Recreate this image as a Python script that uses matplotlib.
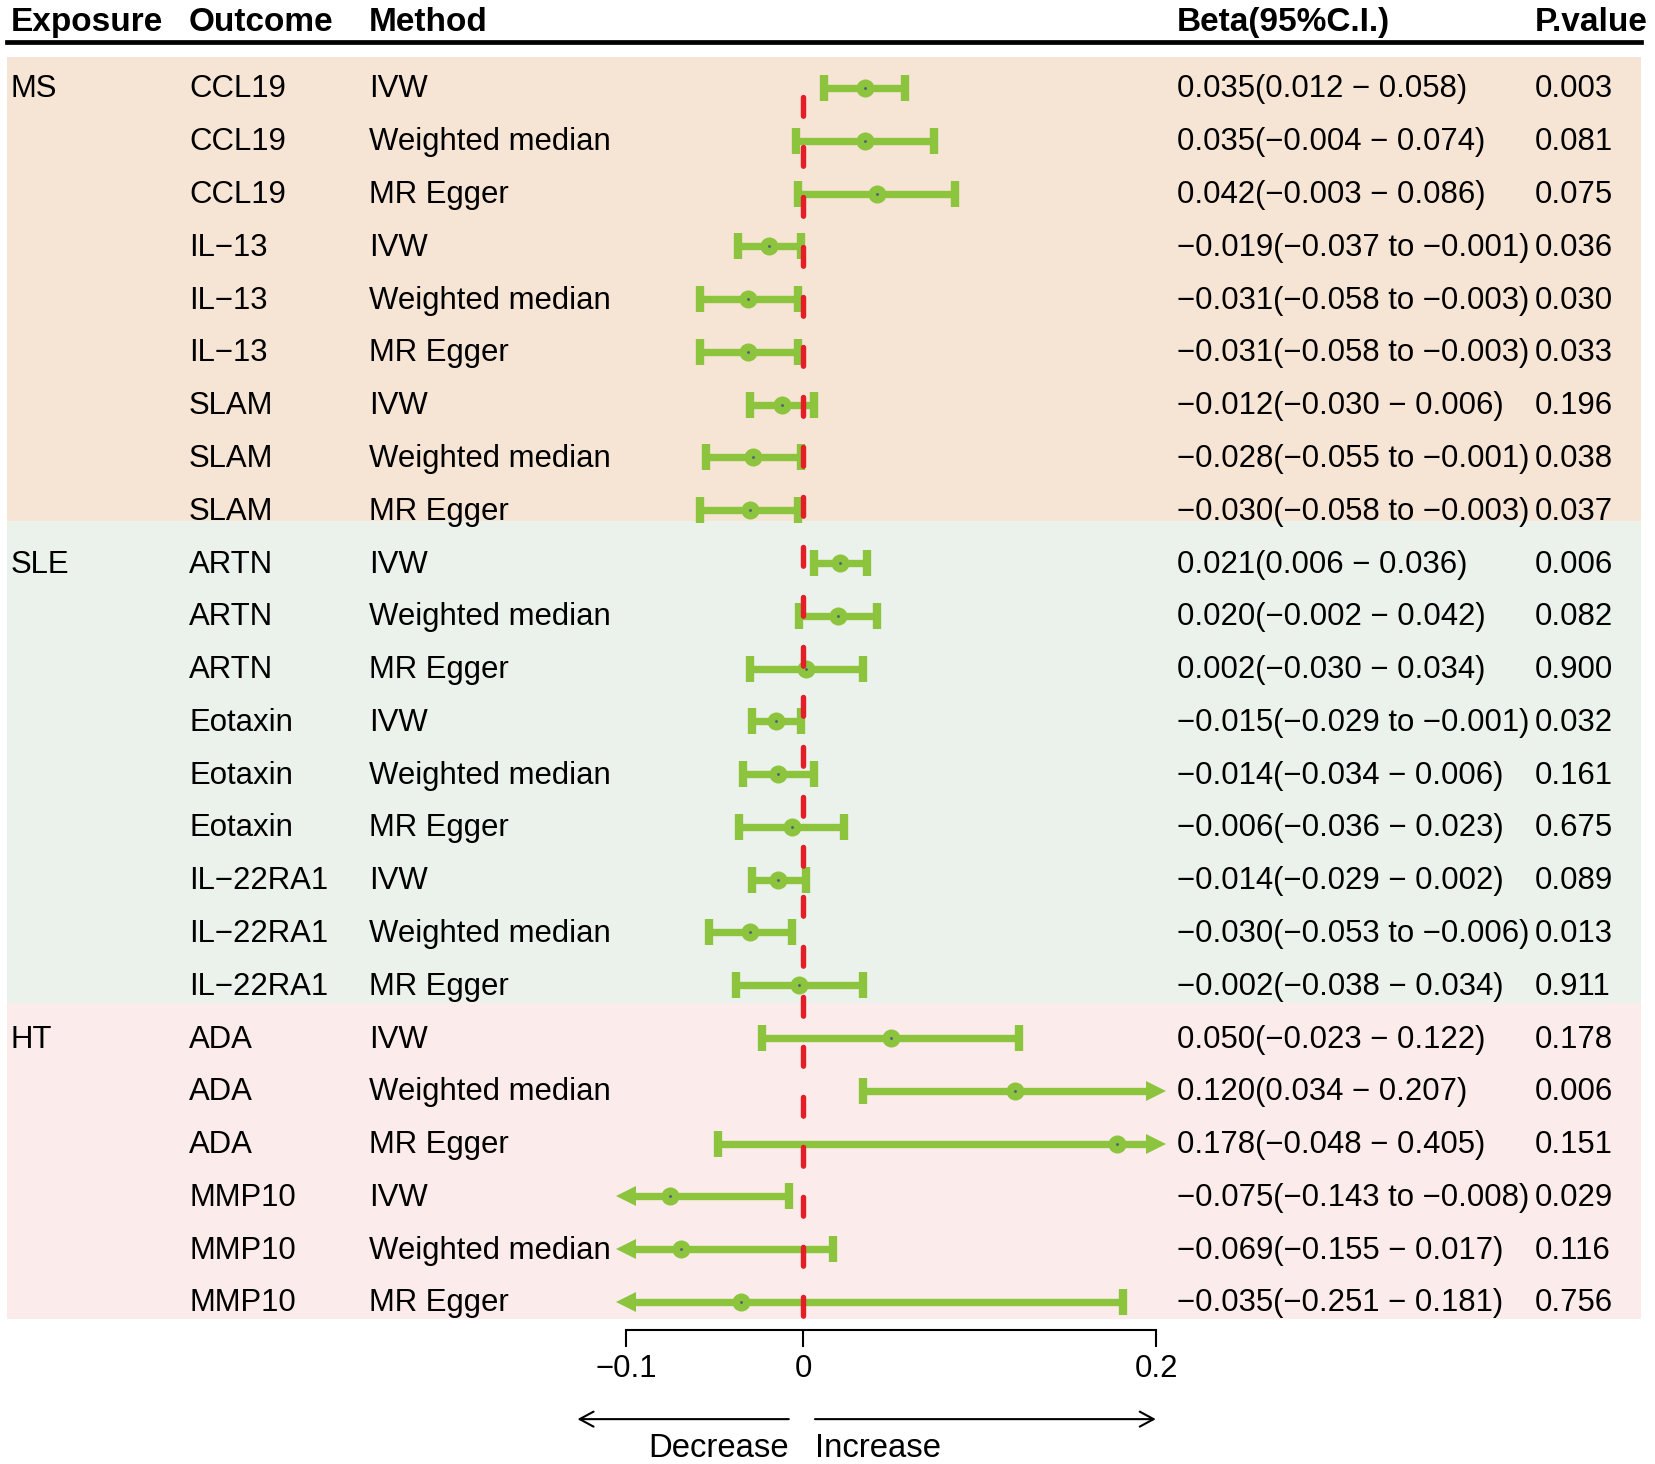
import matplotlib
matplotlib.use("Agg")
import matplotlib.pyplot as plt

plt.rcParams['font.family'] = ['Liberation Sans', 'DejaVu Sans']

# Data
exposures = ["MS"] * 9 + ["SLE"] * 9 + ["HT"] * 6
outcomes = (["CCL19"] * 3 + ["IL\u221213"] * 3 + ["SLAM"] * 3 +
            ["ARTN"] * 3 + ["Eotaxin"] * 3 + ["IL\u221222RA1"] * 3 +
            ["ADA"] * 3 + ["MMP10"] * 3)
methods = ["IVW", "Weighted median", "MR Egger"] * 8

beta = [0.035, 0.035, 0.042, -0.019, -0.031, -0.031, -0.012, -0.028, -0.030,
        0.021, 0.020, 0.002, -0.015, -0.014, -0.006, -0.014, -0.030, -0.002,
        0.050, 0.120, 0.178, -0.075, -0.069, -0.035]
lower = [0.012, -0.004, -0.003, -0.037, -0.058, -0.058, -0.030, -0.055, -0.058,
         0.006, -0.002, -0.030, -0.029, -0.034, -0.036, -0.029, -0.053, -0.038,
         -0.023, 0.034, -0.048, -0.143, -0.155, -0.251]
upper = [0.058, 0.074, 0.086, -0.001, -0.003, -0.003, 0.006, -0.001, -0.003,
         0.036, 0.042, 0.034, -0.001, 0.006, 0.023, 0.002, -0.006, 0.034,
         0.122, 0.207, 0.405, -0.008, 0.017, 0.181]
pvals = [0.003, 0.081, 0.075, 0.036, 0.030, 0.033, 0.196, 0.038, 0.037,
         0.006, 0.082, 0.900, 0.032, 0.161, 0.675, 0.089, 0.013, 0.911,
         0.178, 0.006, 0.151, 0.029, 0.116, 0.756]

group_names = ["MS", "SLE", "HT"]
group_colors = ["#F6E4D4", "#EBF2EC", "#FBECEB"]

x_ticks = [-0.1, 0, 0.2]
X_MIN, X_MAX = -0.1, 0.2

# Style / layout
GREEN = "#8DC43E"
RED = "#E41E26"
DOT = "#4A5A80"
FS = 22.4
HFS = 24
AFS = 23.7
band_edges = [0.413, 9.204, 18.336, 24.323]
col_x = [0.0066, 0.1142, 0.223, 0.7112, 0.9275]
TXT_OFF = 0.18


def beta_label(b, lo, hi):
    sep = " to " if hi < 0 else " \u2212 "
    s = f"{b:.3f}({lo:.3f}{sep}{hi:.3f})"
    return s.replace("-", "\u2212")


def main():
    fig = plt.figure(figsize=(16.55, 14.64), dpi=100)
    ax = fig.add_axes([0, 0, 1, 1])
    ax.set_facecolor("none")
    ax.set_xlim(-0.4544, 0.4822)
    ax.set_ylim(27.07, -0.667)

    n = len(beta)
    rows = list(range(1, n + 1))
    tr = ax.get_yaxis_transform()

    # background bands
    for k, name in enumerate(group_names):
        ax.axhspan(band_edges[k], band_edges[k + 1], xmin=7 / 1655, xmax=1641 / 1655,
                   color=group_colors[k], lw=0, zorder=0)

    # header
    headers = ["Exposure", "Outcome", "Method", "Beta(95%C.I.)", "P.value"]
    for cx, h in zip(col_x, headers):
        ax.text(cx, -0.08, h, transform=tr, fontsize=HFS, fontweight="bold",
                ha="left", va="baseline")
    ax.axhline(0.128, xmin=7 / 1655, xmax=1641 / 1655, color="black", lw=3.4, zorder=2)

    # table text
    prev = None
    for i in range(n):
        y = rows[i] + TXT_OFF
        if exposures[i] != prev:
            ax.text(col_x[0], y, exposures[i], transform=tr, fontsize=FS, va="baseline")
            prev = exposures[i]
        ax.text(col_x[1], y, outcomes[i], transform=tr, fontsize=FS, va="baseline")
        ax.text(col_x[2], y, methods[i], transform=tr, fontsize=FS, va="baseline")
        ax.text(col_x[3], y, beta_label(beta[i], lower[i], upper[i]), transform=tr,
                fontsize=FS, va="baseline")
        ax.text(col_x[4], y, f"{pvals[i]:.3f}", transform=tr, fontsize=FS, va="baseline")

    # confidence intervals
    for i in range(n):
        y = rows[i]
        lo = max(lower[i], X_MIN)
        hi = min(upper[i], X_MAX)
        ax.plot([lo, hi], [y, y], color=GREEN, lw=5.3, solid_capstyle="butt", zorder=3)
        if lower[i] < X_MIN:
            ax.plot(lo, y, marker="<", ms=14, color=GREEN, mew=0, zorder=3)
        else:
            ax.plot(lo, y, marker="|", ms=19, mew=6, color=GREEN, zorder=3)
        if upper[i] > X_MAX:
            ax.plot(hi, y, marker=">", ms=14, color=GREEN, mew=0, zorder=3)
        else:
            ax.plot(hi, y, marker="|", ms=19, mew=6, color=GREEN, zorder=3)
        ax.plot(beta[i], y, "o", ms=13, color=GREEN, mew=0, zorder=4)
        ax.plot(beta[i], y, "o", ms=2, color=DOT, mew=0, zorder=5)

    # reference line
    ax.plot([0, 0], [1.18, 24.32], color=RED, lw=3.9, ls=(0, (3.46, 5.77)),
            dash_capstyle="round", zorder=6)

    # x axis
    for s in ["left", "right", "top"]:
        ax.spines[s].set_visible(False)
    ax.spines["bottom"].set_position(("data", 24.53))
    ax.spines["bottom"].set_bounds(X_MIN, X_MAX)
    ax.spines["bottom"].set_linewidth(1.5)
    ax.set_yticks([])
    ax.set_xticks(x_ticks)
    ax.set_xticklabels(["\u22120.1", "0", "0.2"])
    ax.tick_params(axis="x", direction="out", length=12, width=1.5, pad=5, labelsize=FS)

    # direction arrows
    arrow = dict(arrowstyle="->,head_length=0.5,head_width=0.27", lw=1.5, color="black",
                 mutation_scale=20, shrinkA=0, shrinkB=0)
    ax.annotate("", xy=(-0.1276, 26.22), xytext=(-0.008, 26.22), arrowprops=arrow)
    ax.annotate("", xy=(0.1997, 26.22), xytext=(0.0068, 26.22), arrowprops=arrow)
    ax.text(-0.008, 26.94, "Decrease", fontsize=AFS, ha="right", va="baseline")
    ax.text(0.0068, 26.94, "Increase", fontsize=AFS, ha="left", va="baseline")

    fig.savefig("out.png", dpi=100, facecolor="white")


if __name__ == "__main__":
    main()
